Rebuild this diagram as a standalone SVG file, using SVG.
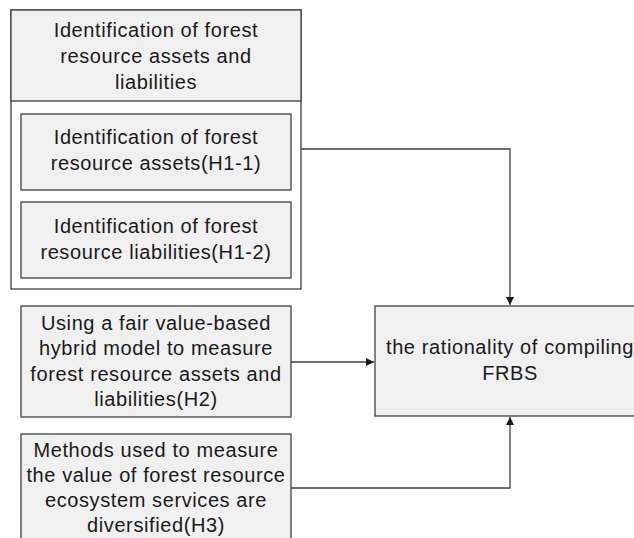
<svg xmlns="http://www.w3.org/2000/svg" width="634" height="538" viewBox="0 0 634 538">
<defs>
<style>
.box{fill:#f0f0f0;stroke:#404040;stroke-width:1.3}
.wbox{fill:#ffffff;stroke:#404040;stroke-width:1.3}
text{font-family:"Liberation Sans",Arial,sans-serif;font-size:20px;letter-spacing:0.6px;fill:#1a1a1a;text-anchor:middle}
.ln{fill:none;stroke:#404040;stroke-width:1.3}
</style>
<marker id="ah" viewBox="0 0 10 10" refX="10" refY="5" markerWidth="8" markerHeight="8" markerUnits="userSpaceOnUse" orient="auto">
<path d="M0,0 L10,5 L0,10 z" fill="#1a1a1a"/>
</marker>
</defs>
<rect width="634" height="538" fill="#ffffff"/>
<g id="h1">
<rect class="wbox" x="11" y="10" width="290" height="279"/>
<rect class="box" x="11" y="10" width="290" height="91"/>
<text x="156" y="37">Identification of forest</text>
<text x="156" y="63">resource assets and</text>
<text x="156" y="89">liabilities</text>
</g>
<g id="h1-1">
<rect class="box" x="21" y="114" width="270" height="76"/>
<text x="156" y="144">Identification of forest</text>
<text x="156" y="170">resource assets(H1-1)</text>
</g>
<g id="h1-2">
<rect class="box" x="21" y="202" width="270" height="76"/>
<text x="156" y="233">Identification of forest</text>
<text x="156" y="259">resource liabilities(H1-2)</text>
</g>
<g id="h2">
<rect class="box" x="21" y="306" width="270" height="111"/>
<text x="156" y="330">Using a fair value-based</text>
<text x="156" y="355">hybrid model to measure</text>
<text x="156" y="381">forest resource assets and</text>
<text x="156" y="406">liabilities(H2)</text>
</g>
<g id="h3">
<rect class="box" x="21" y="434" width="270" height="120"/>
<text x="156" y="457">Methods used to measure</text>
<text x="156" y="482">the value of forest resource</text>
<text x="156" y="507">ecosystem services are</text>
<text x="156" y="532">diversified(H3)</text>
</g>
<g id="result">
<rect class="box" x="375" y="306" width="270" height="110"/>
<text x="510" y="354">the rationality of compiling</text>
<text x="510" y="380">FRBS</text>
</g>
<g id="connectors">
<path class="ln" d="M301,149 H510 V305" marker-end="url(#ah)"/>
<path class="ln" d="M291,362 H374" marker-end="url(#ah)"/>
<path class="ln" d="M291,488 H510 V417" marker-end="url(#ah)"/>
</g>
</svg>
